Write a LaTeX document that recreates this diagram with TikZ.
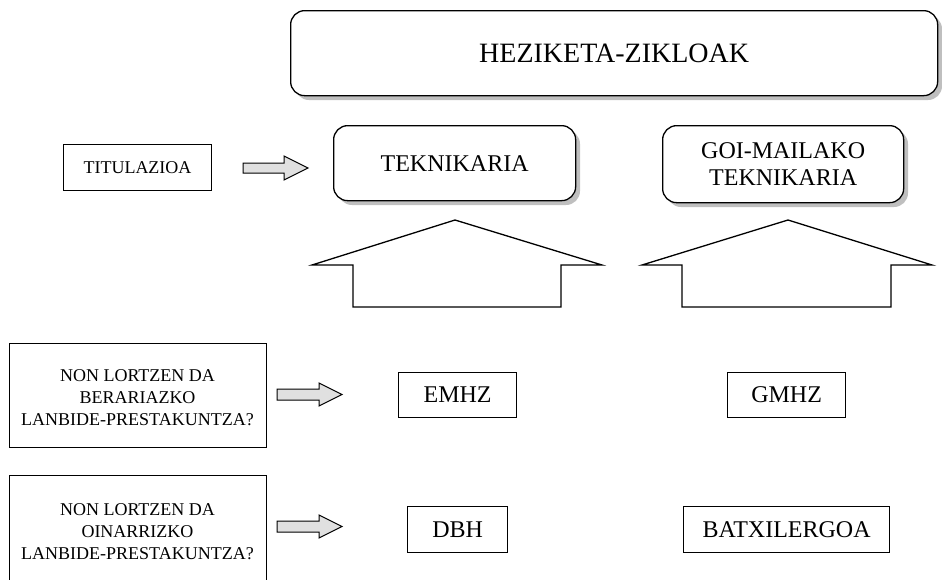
\documentclass[tikz,border=0pt]{standalone}
\usepackage{fontspec}
\setmainfont{Liberation Serif}
\begin{document}
\begin{tikzpicture}[x=1pt,y=-1pt,
  roundbox/.style={draw=black, line width=1.3pt, rounded corners=14pt, fill=white, align=center, inner sep=0pt},
  shadowbox/.style={fill=black!25, rounded corners=14pt, draw=none},
  plainbox/.style={draw=black, line width=1.2pt, fill=white, align=center, inner sep=0pt},
  thinbox/.style={draw=black, line width=1pt, fill=white, align=center, inner sep=0pt},
  qtext/.style={font=\fontsize{18}{22}\selectfont, align=center, inner sep=0pt},
  blockarrow/.style={draw=black, line width=1pt, fill=black!12, line join=miter},
  bigarrow/.style={draw=black, line width=1.3pt, fill=white, line join=miter}]
\useasboundingbox (0,0) rectangle (942,579);
% title box
\fill[shadowbox] (295,15) rectangle (942,100);
\node[roundbox, minimum width=647pt, minimum height=85pt, anchor=north west, font=\fontsize{28}{32}\selectfont] (title) at (290,10) {HEZIKETA-ZIKLOAK};
% titulazioa
\node[thinbox, minimum width=148pt, minimum height=46pt, anchor=north west, font=\fontsize{18}{21}\selectfont] (tit) at (63,144) {TITULAZIOA};
\draw[blockarrow] (243,163) -- (284,163) -- (284,156) -- (308,168) -- (284,180) -- (284,173) -- (243,173) -- cycle;
% teknikaria
\fill[shadowbox] (338,130) rectangle (580,205);
\node[roundbox, minimum width=242pt, minimum height=75pt, anchor=north west, font=\fontsize{24}{27}\selectfont] (tek) at (333,125) {TEKNIKARIA};
\fill[shadowbox] (667,130) rectangle (908,207);
\node[roundbox, minimum width=241pt, minimum height=77pt, anchor=north west, font=\fontsize{24}{27}\selectfont] (goi) at (662,125) {GOI-MAILAKO\\TEKNIKARIA};
% big arrows
\draw[bigarrow] (455,220) -- (602,265) -- (561,265) -- (561,307) -- (353,307) -- (353,265) -- (312,265) -- cycle;
\draw[bigarrow] (788,220) -- (932,265) -- (891,265) -- (891,307) -- (682,307) -- (682,265) -- (642,265) -- cycle;
% NON boxes
\node[thinbox, minimum width=257pt, minimum height=104pt, anchor=north west] (q1) at (9,343) {};
\node[qtext] (q1t) at (137.5,398) {NON LORTZEN DA\\BERARIAZKO\\LANBIDE-PRESTAKUNTZA?};
\draw[blockarrow] (277,389) -- (319,389) -- (319,383) -- (342,394.5) -- (319,406) -- (319,400) -- (277,400) -- cycle;
\node[thinbox, minimum width=257pt, minimum height=130pt, anchor=north west] (q2) at (9,475) {};
\node[qtext] (q2t) at (137.5,532) {NON LORTZEN DA\\OINARRIZKO\\LANBIDE-PRESTAKUNTZA?};
\draw[blockarrow] (277,521) -- (319,521) -- (319,515) -- (342,526.5) -- (319,538) -- (319,532) -- (277,532) -- cycle;
% small boxes
\node[plainbox, minimum width=118pt, minimum height=45pt, anchor=north west, font=\fontsize{24}{27}\selectfont] (emhz) at (398,372) {EMHZ};
\node[plainbox, minimum width=118pt, minimum height=45pt, anchor=north west, font=\fontsize{24}{27}\selectfont] (gmhz) at (727,372) {GMHZ};
\node[plainbox, minimum width=100pt, minimum height=46pt, anchor=north west, font=\fontsize{24}{27}\selectfont] (dbh) at (407,506) {DBH};
\node[plainbox, minimum width=206pt, minimum height=46pt, anchor=north west, font=\fontsize{24}{27}\selectfont] (bat) at (683,506) {BATXILERGOA};
\end{tikzpicture}
\end{document}
